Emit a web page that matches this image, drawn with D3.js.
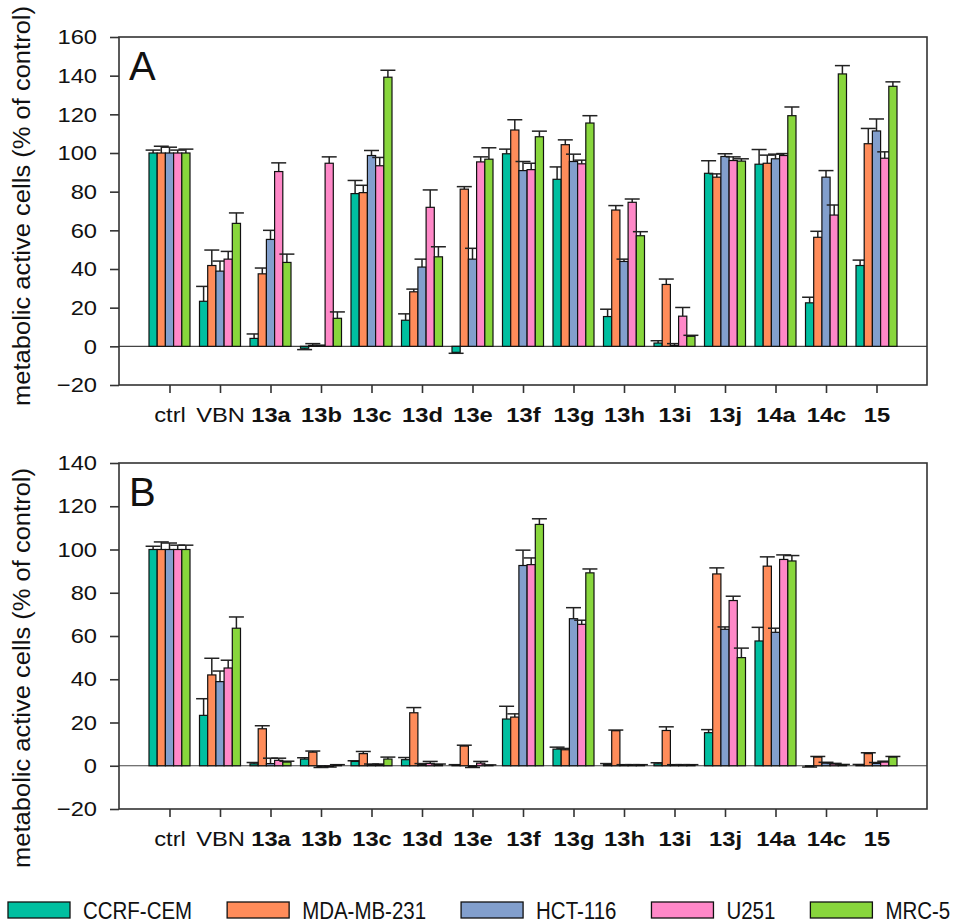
<!DOCTYPE html>
<html>
<head>
<meta charset="utf-8">
<script src="https://cdn.jsdelivr.net/npm/d3@7/dist/d3.min.js"></script>
<style>
  body { margin: 0; background: #fff; }
  svg { display: block; font-family: "Liberation Sans", Arial, sans-serif; }
</style>
</head>
<body>
<svg id="chart" width="956" height="923"></svg>
<script>
// categories on the x axis (both panels)
var categories = ["ctrl", "VBN", "13a", "13b", "13c", "13d", "13e", "13f", "13g", "13h", "13i", "13j", "14a", "14c", "15"];
var boldCats = categories.slice(2);
var cellLines = ["CCRF-CEM", "MDA-MB-231", "HCT-116", "U251", "MRC-5"];
var colors = ["#00bfa0", "#ff8c5a", "#829fcd", "#ff88c8", "#88d63c"];

// panel A
var aCCRF    = [100, 23.3, 4.1, -1.0, 79.0, 13.5, -3.1, 99.6, 86.4, 15.4, 1.7, 89.5, 94.2, 22.5, 41.8];
var aCCRFerr = [1.5, 7.7, 2.3, 0.7, 6.8, 3.3, 0.5, 2.4, 6.4, 3.8, 1.2, 6.5, 7.6, 2.9, 2.8];
var aMDA     = [100, 41.8, 37.5, 0.5, 79.5, 28.2, 81.3, 111.9, 104.3, 70.5, 32.0, 87.5, 94.7, 56.4, 104.8];
var aMDAerr  = [3.5, 8.0, 3.0, 0.9, 3.8, 1.4, 1.3, 5.3, 2.5, 2.3, 2.8, 1.7, 4.2, 3.1, 7.9];
var aHCT     = [100, 38.9, 55.3, 0.3, 98.7, 41.0, 45.1, 90.9, 95.6, 43.9, 0.5, 98.2, 97.0, 87.5, 111.4];
var aHCTerr  = [3.0, 5.2, 4.7, 0.3, 2.6, 4.1, 5.6, 4.7, 3.8, 1.2, 0.9, 1.4, 2.4, 3.4, 6.2];
var aU251    = [100, 45.1, 90.4, 94.7, 93.4, 71.9, 95.4, 91.4, 94.4, 74.5, 15.6, 96.1, 98.7, 67.9, 97.3];
var aU251err = [1.5, 4.0, 4.5, 3.3, 4.3, 9.0, 2.6, 3.3, 1.9, 1.7, 4.5, 1.9, 1.0, 5.2, 3.3];
var aMRC     = [100, 63.6, 43.4, 14.5, 139.2, 46.3, 96.8, 108.4, 115.5, 57.2, 5.2, 95.8, 119.3, 140.9, 134.5];
var aMRCerr  = [2.0, 5.4, 4.3, 3.3, 3.6, 5.2, 5.9, 2.9, 3.8, 2.1, 0.5, 1.2, 4.5, 4.3, 2.3];

// panel B
var bCCRF    = [100, 23.3, 0.9, 3.1, 2.0, 2.8, 0.2, 21.6, 7.7, 0.5, 0.9, 15.3, 57.7, -0.3, 0.3];
var bCCRFerr = [1.5, 7.7, 0.6, 0.6, 0.3, 1.0, 0.3, 5.9, 0.9, 0.5, 0.5, 1.4, 6.3, 0.3, 0.3];
var bMDA     = [100, 42.0, 17.1, 6.3, 5.6, 24.5, 9.1, 22.5, 7.4, 16.2, 16.3, 88.7, 92.3, 4.0, 5.6];
var bMDAerr  = [3.5, 7.7, 1.4, 0.5, 1.0, 2.4, 0.4, 1.5, 0.6, 0.3, 1.7, 2.8, 4.3, 0.3, 0.4];
var bHCT     = [100, 38.9, 1.0, -0.5, 0.5, 0.5, -0.5, 92.6, 68.0, 0.3, 0.3, 63.1, 61.7, 1.2, 1.1];
var bHCTerr  = [3.0, 4.9, 2.5, 0.3, 0.3, 0.5, 0.3, 7.1, 5.1, 0.2, 0.2, 1.1, 1.9, 0.4, 0.4];
var bU251    = [100, 45.2, 2.5, -0.3, 0.5, 1.1, 1.2, 93.0, 65.4, 0.3, 0.3, 76.4, 95.4, 0.8, 1.7];
var bU251err = [2.0, 3.6, 1.0, 0.3, 0.3, 0.9, 0.8, 3.1, 1.9, 0.2, 0.2, 2.0, 2.1, 0.3, 0.4];
var bMRC     = [100, 63.6, 1.7, 0.3, 3.1, 0.5, 0.2, 111.6, 89.2, 0.3, 0.3, 50.0, 94.7, 0.4, 4.0];
var bMRCerr  = [2.0, 5.2, 0.4, 0.2, 0.9, 0.3, 0.2, 2.6, 1.8, 0.2, 0.2, 4.4, 2.5, 0.2, 0.3];

var yTicksA = [-20, 0, 20, 40, 60, 80, 100, 120, 140, 160];
var yTicksB = [-20, 0, 20, 40, 60, 80, 100, 120, 140];

var svg = d3.select("#chart");
var sx = 1.13; // the source tick text is a bit wide
var font = "'Liberation Sans', Arial, sans-serif";
var left = 119, right = 927;

var x = d3.scalePoint()
    .domain(categories)
    .range([left, right])
    .padding(1);

var xSub = d3.scaleBand()
    .domain(cellLines)
    .range([-20.5, 20.5]);

function drawPanel(p) {
    var y = d3.scaleLinear()
        .domain([p.ticks[0], p.ticks[p.ticks.length - 1]])
        .range([p.bottom, p.top]);

    var g = svg.append("g");

    // zero line
    g.append("line")
        .attr("x1", left).attr("x2", right)
        .attr("y1", y(0)).attr("y2", y(0))
        .attr("stroke", "#444")
        .attr("stroke-width", 1.2);

    var rows = [];
    categories.forEach(function(c, i) {
        cellLines.forEach(function(s, j) {
            rows.push({cat: c, line: s, idx: j, v: p.values[j][i], e: p.errors[j][i]});
        });
    });

    var bars = g.append("g").selectAll("g")
        .data(rows)
        .enter().append("g");

    // error bars (drawn behind bars, only the outer half shows)
    bars.each(function(d) {
        var cx = x(d.cat) + xSub(d.line) + xSub.bandwidth() / 2;
        var sign = d.v < 0 ? -1 : 1;
        var end = y(d.v + sign * d.e);
        var sel = d3.select(this);
        sel.append("line")
            .attr("x1", cx).attr("x2", cx)
            .attr("y1", y(d.v)).attr("y2", end)
            .attr("stroke", "#222").attr("stroke-width", 1.5);
        sel.append("line")
            .attr("x1", cx - 7.5).attr("x2", cx + 7.5)
            .attr("y1", end).attr("y2", end)
            .attr("stroke", "#222").attr("stroke-width", 1.5);
    });

    bars.append("rect")
        .attr("x", d => x(d.cat) + xSub(d.line))
        .attr("y", d => y(Math.max(0, d.v)))
        .attr("width", xSub.bandwidth())
        .attr("height", d => Math.abs(y(d.v) - y(0)))
        .attr("fill", d => colors[d.idx])
        .attr("stroke", "#111")
        .attr("stroke-width", 1.2);

    // frame
    g.append("rect")
        .attr("x", left).attr("y", p.top)
        .attr("width", right - left).attr("height", p.bottom - p.top)
        .attr("fill", "none")
        .attr("stroke", "#333")
        .attr("stroke-width", 1.6);

    var yAxis = g.append("g")
        .attr("transform", `translate(${left},0)`)
        .call(d3.axisLeft(y).tickValues(p.ticks).tickSize(9).tickPadding(13).tickSizeOuter(0))
        .attr("font-family", font);
    yAxis.select(".domain").remove();
    yAxis.selectAll("line").attr("stroke", "#333").attr("stroke-width", 1.6);
    yAxis.selectAll("text")
        .attr("x", -22 / sx)
        .attr("transform", `scale(${sx},1)`)
        .style("font-size", "21px")
        .attr("fill", "#111");

    var xAxis = g.append("g")
        .attr("transform", `translate(0,${p.bottom})`)
        .call(d3.axisBottom(x).tickSize(8).tickPadding(14).tickSizeOuter(0))
        .attr("font-family", font);
    xAxis.select(".domain").remove();
    xAxis.selectAll("line").attr("stroke", "#333").attr("stroke-width", 1.6);
    xAxis.selectAll("text")
        .attr("transform", `scale(${sx},1)`)
        .style("font-size", "21px")
        .style("font-weight", d => boldCats.includes(d) ? "bold" : "normal")
        .attr("fill", "#111");

    // panel letter
    g.append("text")
        .attr("x", 129).attr("y", p.top + 43)
        .style("font-size", "40px")
        .attr("fill", "#111")
        .text(p.label);

    // y title
    g.append("text")
        .attr("transform", `translate(30,${p.titleY}) rotate(-90)`)
        .attr("text-anchor", "middle")
        .style("font-size", "23px")
        .attr("textLength", 400)
        .attr("lengthAdjust", "spacingAndGlyphs")
        .attr("fill", "#111")
        .text("metabolic active cells (% of control)");
}

drawPanel({
    label: "A", top: 37, bottom: 385, ticks: yTicksA, titleY: 206,
    values: [aCCRF, aMDA, aHCT, aU251, aMRC],
    errors: [aCCRFerr, aMDAerr, aHCTerr, aU251err, aMRCerr]
});

drawPanel({
    label: "B", top: 463, bottom: 809, ticks: yTicksB, titleY: 668,
    values: [bCCRF, bMDA, bHCT, bU251, bMRC],
    errors: [bCCRFerr, bMDAerr, bHCTerr, bU251err, bMRCerr]
});

// legend (source text is narrow)
var lsx = 0.89;
var legend = svg.append("g").attr("transform", "translate(8,902)");
var lx = 0;
cellLines.forEach(function(name, i) {
    var item = legend.append("g").attr("transform", `translate(${lx},0)`);
    item.append("rect")
        .attr("width", 62).attr("height", 16)
        .attr("fill", colors[i])
        .attr("stroke", "#111").attr("stroke-width", 1.3);
    var t = item.append("text")
        .attr("x", 75 / lsx).attr("y", 17)
        .attr("transform", `scale(${lsx},1)`)
        .style("font-size", "23px")
        .attr("fill", "#111")
        .text(name);
    lx += 75 + t.node().getComputedTextLength() * lsx + 35;
});
</script>
</body>
</html>
